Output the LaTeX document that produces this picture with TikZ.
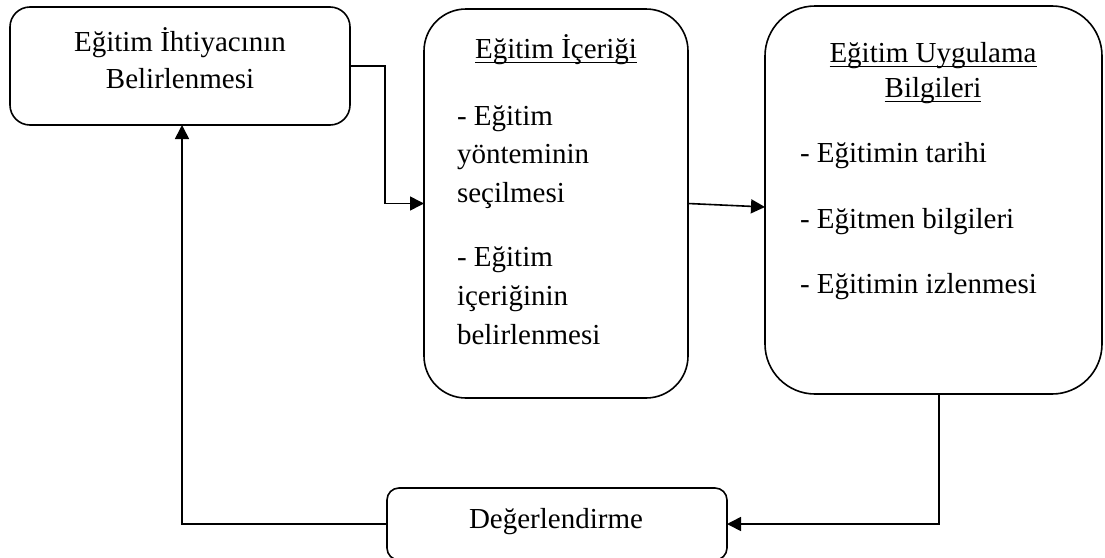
\documentclass[tikz,border=0pt]{standalone}
\usepackage{fontspec}
\setmainfont{Liberation Serif}
\usetikzlibrary{arrows.meta}
\begin{document}
\begin{tikzpicture}[x=1pt,y=-1pt,
  box/.style={draw, line width=1.6pt, inner sep=0pt, outer sep=0pt},
  txt/.style={inner sep=0pt, outer sep=0pt, font=\fontsize{29}{38}\selectfont},
  conn/.style={line width=1.6pt, -{Triangle[length=14pt,width=14pt]}},
  uline/.style={line width=1.4pt}]
\useasboundingbox (0,0) rectangle (1105,557);

% boxes
\node[box, rounded corners=20pt, minimum width=340pt, minimum height=118pt] (b1) at (180,66) {};
\node[box, rounded corners=42pt, minimum width=264pt, minimum height=389pt] (b2) at (556,203.5) {};
\node[box, rounded corners=50pt, minimum width=337pt, minimum height=388pt] (b3) at (933.5,200) {};
\node[box, rounded corners=12pt, minimum width=340pt, minimum height=72pt] (b4) at (557,524) {};

% box 1 text
\node[txt, anchor=base] (t1a) at (180,51) {Eğitim İhtiyacının};
\node[txt, anchor=base] (t1b) at (180,88) {Belirlenmesi};

% box 2 text
\node[txt, anchor=base] (t2h) at (556,58) {Eğitim İçeriği};
\draw[uline] ([yshift=-4.5pt]t2h.base west) -- ([yshift=-4.5pt]t2h.base east);
\node[txt, anchor=base west] (t2a) at (457,125) {- Eğitim};
\node[txt, anchor=base west] (t2b) at (457,163) {yönteminin};
\node[txt, anchor=base west] (t2c) at (457,202) {seçilmesi};
\node[txt, anchor=base west] (t2d) at (457,266) {- Eğitim};
\node[txt, anchor=base west] (t2e) at (457,305) {içeriğinin};
\node[txt, anchor=base west] (t2f) at (457,344) {belirlenmesi};

% box 3 text
\node[txt, anchor=base] (t3h) at (933,62) {Eğitim Uygulama};
\draw[uline] ([yshift=-4.5pt]t3h.base west) -- ([yshift=-4.5pt]t3h.base east);
\node[txt, anchor=base] (t3i) at (933,97) {Bilgileri};
\draw[uline] ([yshift=-4.5pt]t3i.base west) -- ([yshift=-4.5pt]t3i.base east);
\node[txt, anchor=base west] (t3a) at (800,162) {- Eğitimin tarihi};
\node[txt, anchor=base west] (t3b) at (800,228) {- Eğitmen bilgileri};
\node[txt, anchor=base west] (t3c) at (800,293) {- Eğitimin izlenmesi};

% box 4 text
\node[txt, anchor=base] (t4) at (556,528) {Değerlendirme};

% connectors
\draw[conn] (b1.east) -- ++(35,0) |- (b2.west);
\draw[conn] (b2.east) -- ([yshift=-7pt]b3.west);
\draw[conn] ([xshift=5.5pt]b3.south) |- (b4.east);
\draw[conn] (b4.west) -| ([xshift=2pt]b1.south);
\end{tikzpicture}
\end{document}
